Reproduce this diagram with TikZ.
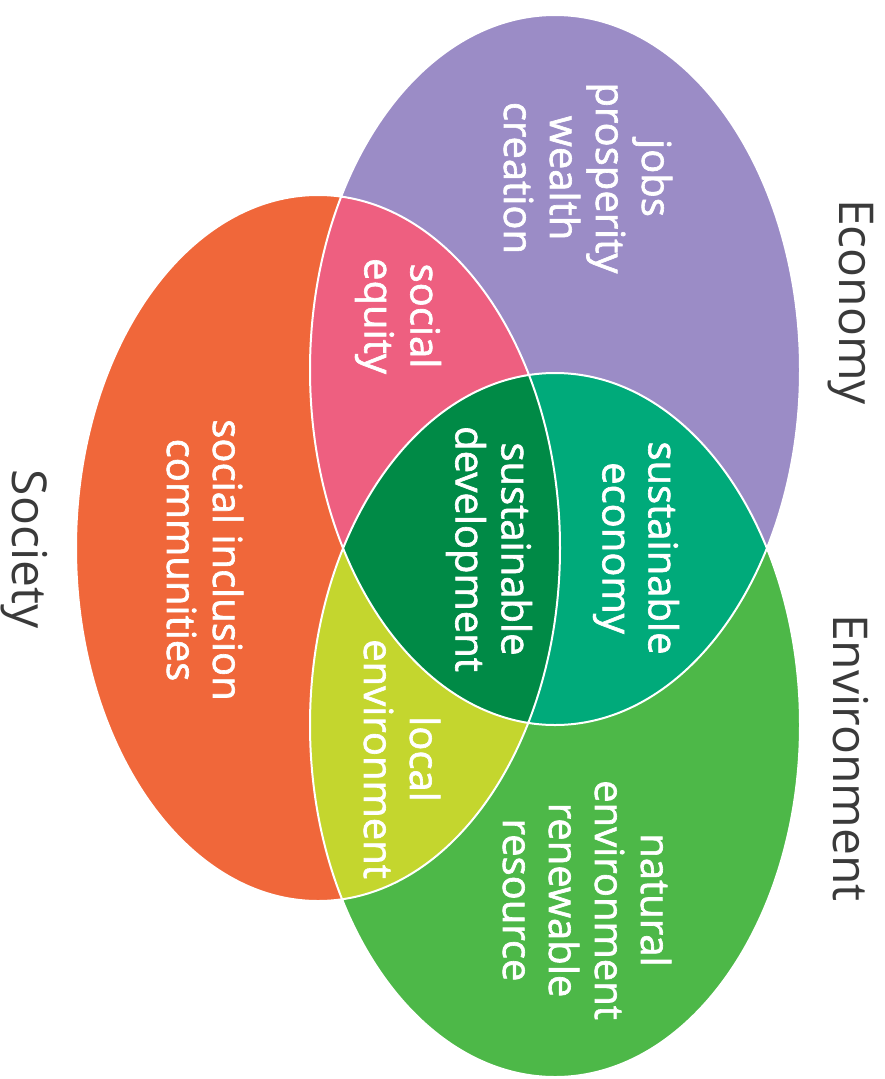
\documentclass[tikz,border=0pt]{standalone}
\usepackage{fontspec}
\setmainfont{Open Sans}
\newfontfamily\innerfont{Open Sans}[FakeBold=1.6]
\usepackage{tikz}

\definecolor{ecopurple}{RGB}{155,140,198}
\definecolor{socorange}{RGB}{240,103,58}
\definecolor{envgreen}{RGB}{77,184,72}
\definecolor{equitypink}{RGB}{238,95,128}
\definecolor{ecoteal}{RGB}{0,170,122}
\definecolor{localyellow}{RGB}{196,214,46}
\definecolor{sdgreen}{RGB}{0,138,70}
\definecolor{labelgray}{RGB}{58,58,58}

% die drei Ellipsen
\newcommand{\ecoshape}{(555,370) ellipse [x radius=245pt, y radius=355pt]}
\newcommand{\envshape}{(555,725) ellipse [x radius=245pt, y radius=352pt]}
\newcommand{\socshape}{(318,548) ellipse [x radius=242pt, y radius=353pt]}

\begin{document}
\begin{tikzpicture}[x=1pt,y=-1pt,
  inner text/.style={text=white, rotate=-90, align=center,
    font=\innerfont\fontsize{40}{46}\selectfont},
  label text/.style={text=labelgray, rotate=-90,
    font=\fontsize{48}{56}\selectfont}]
\useasboundingbox (0,0) rectangle (884,1079);

\fill[socorange] \socshape;
\fill[ecopurple] \ecoshape;
\fill[envgreen] \envshape;

%Schnittmengen
\begin{scope}
\clip \ecoshape;
\fill[equitypink] \socshape;
\fill[ecoteal] \envshape;
\end{scope}
\begin{scope}
\clip \socshape;
\fill[localyellow] \envshape;
\end{scope}
\begin{scope}
\clip \ecoshape;
\clip \envshape;
\fill[sdgreen] \socshape;
\end{scope}

\draw[white, line width=2pt] \socshape \ecoshape \envshape;

%Beschriftung
\node[inner text] (jobs) at (588,178) {jobs\\prosperity\\wealth\\creation};
\node[inner text] (equity) at (398,316) {social\\equity};
\node[inner text] (inclusion) at (205,560) {social inclusion\\communities};
\node[inner text] (sustdev) at (489,549) {sustainable\\development};
\node[inner text] (susteco) at (636,548) {sustainable\\economy};
\node[inner text] (localenv) at (402,759) {local\\environment};
\node[inner text] (natural) at (587,900) {natural\\environment\\renewable\\resource};

\node[label text] (economy) at (851,302) {Economy};
\node[label text] (environment) at (851,758) {Environment};
\node[label text] (society) at (24,549) {Society};
\end{tikzpicture}
\end{document}
